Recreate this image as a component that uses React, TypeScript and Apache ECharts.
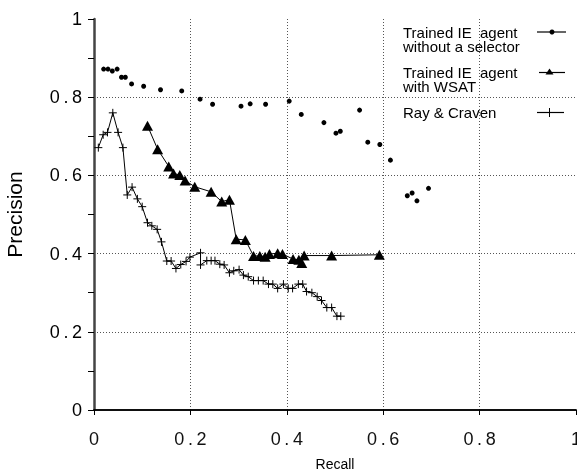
import React, { useEffect, useRef } from "react";
import * as echarts from "echarts";

const selectorRecall = [0.020, 0.029, 0.038, 0.048, 0.057, 0.065, 0.078, 0.103, 0.138, 0.182, 0.220, 0.246, 0.305, 0.324, 0.356, 0.405, 0.430, 0.477, 0.502, 0.511, 0.551, 0.568, 0.593, 0.615, 0.650, 0.660, 0.670, 0.694];
const selectorPrecision = [0.872, 0.872, 0.867, 0.872, 0.851, 0.851, 0.834, 0.828, 0.819, 0.816, 0.795, 0.782, 0.777, 0.783, 0.782, 0.790, 0.756, 0.735, 0.708, 0.713, 0.767, 0.685, 0.679, 0.639, 0.548, 0.555, 0.535, 0.567];

const wsatRecall = [0.111, 0.132, 0.155, 0.165, 0.178, 0.189, 0.209, 0.243, 0.265, 0.281, 0.295, 0.314, 0.331, 0.344, 0.355, 0.364, 0.381, 0.391, 0.413, 0.425, 0.431, 0.436, 0.493, 0.592];
const wsatPrecision = [0.727, 0.667, 0.623, 0.605, 0.601, 0.587, 0.571, 0.558, 0.533, 0.538, 0.437, 0.435, 0.394, 0.394, 0.392, 0.399, 0.401, 0.399, 0.386, 0.384, 0.376, 0.395, 0.395, 0.397];

const rayRecall = [0.009, 0.019, 0.028, 0.039, 0.050, 0.060, 0.069, 0.079, 0.090, 0.100, 0.111, 0.120, 0.131, 0.140, 0.151, 0.160, 0.170, 0.180, 0.191, 0.199, 0.221, 0.221, 0.234, 0.243, 0.251, 0.261, 0.270, 0.281, 0.290, 0.301, 0.310, 0.320, 0.331, 0.341, 0.351, 0.362, 0.371, 0.381, 0.393, 0.403, 0.412, 0.424, 0.433, 0.441, 0.452, 0.463, 0.472, 0.483, 0.493, 0.504, 0.512];
const rayPrecision = [0.671, 0.704, 0.710, 0.760, 0.710, 0.671, 0.550, 0.570, 0.540, 0.520, 0.479, 0.471, 0.462, 0.430, 0.381, 0.381, 0.362, 0.372, 0.380, 0.391, 0.402, 0.371, 0.382, 0.382, 0.382, 0.373, 0.371, 0.351, 0.356, 0.359, 0.345, 0.341, 0.331, 0.331, 0.331, 0.322, 0.322, 0.311, 0.322, 0.311, 0.311, 0.322, 0.322, 0.303, 0.300, 0.290, 0.280, 0.262, 0.262, 0.240, 0.240];

const seriesNames = ["Trained IE  agent\nwithout a selector", "Trained IE  agent\nwith WSAT", "Ray & Craven"];
const xAxisTitle = "Recall";
const yAxisTitle = "Precision";

const FONT = "'Liberation Sans', Arial, Helvetica, sans-serif";

function zip(xs: number[], ys: number[]) {
  return xs.map((x, i) => [x, ys[i]]);
}

function spaced(v: number) {
  if (Math.abs(v) < 1e-9) return "0";
  if (Math.abs(v - 1) < 1e-9) return "1";
  return v.toFixed(1).split("").join("\u2009");
}

export default function App() {
  const ref = useRef<HTMLDivElement>(null);
  useEffect(() => {
    if (!ref.current) return;
    const chart = echarts.init(ref.current, null, { renderer: "svg" });
    const dotted = { color: "#555", width: 1, type: [1, 2] as any };
    const lx = 403;
    const legendTexts = [
      { text: seriesNames[0], y: 25 },
      { text: seriesNames[1], y: 65 },
      { text: seriesNames[2], y: 105 },
    ].map((r) => ({
      type: "text",
      x: lx,
      y: r.y,
      style: { text: r.text, font: `15px ${FONT}`, lineHeight: 14, fill: "#000", verticalAlign: "top", align: "left" },
    }));
    chart.setOption({
      animation: false,
      grid: { left: 94, right: 1, top: 19, bottom: 62, outerBoundsMode: "none" } as any,
      textStyle: { fontFamily: FONT },
      xAxis: [
        {
          type: "value",
          min: 0,
          max: 1,
          interval: 0.2,
          name: xAxisTitle,
          nameLocation: "middle",
          nameGap: 47,
          nameTextStyle: { fontSize: 14, color: "#000", fontFamily: FONT },
          axisLine: { show: true, onZero: false, lineStyle: { color: "#000", width: 1.5 } },
          axisTick: { show: true, length: 5, inside: false, lineStyle: { color: "#000", width: 1 } },
          axisLabel: { fontSize: 18, color: "#111", margin: 20, formatter: (v: number) => spaced(v) },
          splitLine: { show: true, showMinLine: false, showMaxLine: false, lineStyle: dotted } as any,
        },
        {
          type: "value",
          position: "top",
          min: 0,
          max: 1,
          axisLine: { show: true, lineStyle: { color: "#000", width: 1.5 } },
          axisTick: { show: false },
          axisLabel: { show: false },
          splitLine: { show: false },
        },
      ],
      yAxis: {
        type: "value",
        min: 0,
        max: 1,
        interval: 0.2,
        name: yAxisTitle,
        nameLocation: "middle",
        nameGap: 69,
        nameRotate: 90,
        nameTextStyle: { fontSize: 21, color: "#000", fontFamily: FONT },
        axisLine: { show: true, onZero: false, lineStyle: { color: "#444", width: 2.5 } },
        axisTick: { show: true, length: 6, lineStyle: { color: "#000", width: 1 } },
        minorTick: { show: true, splitNumber: 2, length: 6, lineStyle: { color: "#000", width: 1 } },
        axisLabel: { fontSize: 18, color: "#000", margin: 12, formatter: (v: number) => spaced(v) },
        splitLine: { show: true, showMinLine: false, showMaxLine: false, lineStyle: dotted } as any,
      },
      series: [
        {
          name: seriesNames[0],
          type: "scatter",
          data: zip(selectorRecall, selectorPrecision),
          symbol: "circle",
          symbolSize: 5,
          itemStyle: { color: "#000", opacity: 1 },
        },
        {
          name: seriesNames[1],
          type: "line",
          data: zip(wsatRecall, wsatPrecision),
          symbol: "triangle",
          symbolSize: [11, 10],
          showAllSymbol: true,
          itemStyle: { color: "#000" },
          lineStyle: { color: "#000", width: 1 },
        },
        {
          name: seriesNames[2],
          type: "line",
          data: zip(rayRecall, rayPrecision),
          symbol: "path://M5,0L5,10M0,5L10,5",
          symbolSize: 8,
          showAllSymbol: true,
          itemStyle: { color: "none", borderColor: "#000", borderWidth: 1 },
          lineStyle: { color: "#000", width: 1 },
        },
      ],
      graphic: [
        ...legendTexts,
        { type: "line", shape: { x1: 537, y1: 32, x2: 566, y2: 32 }, style: { stroke: "#666", lineWidth: 2 } },
        { type: "circle", shape: { cx: 552, cy: 32, r: 2.5 }, style: { fill: "#000" } },
        { type: "line", shape: { x1: 539, y1: 72.5, x2: 565, y2: 72.5 }, style: { stroke: "#000", lineWidth: 1.2 } },
        { type: "polygon", shape: { points: [[549.5, 68.5], [545.5, 74.5], [553.5, 74.5]] }, style: { fill: "#000" } },
        { type: "line", shape: { x1: 537, y1: 112.5, x2: 564, y2: 112.5 }, style: { stroke: "#000", lineWidth: 1.2 } },
        { type: "line", shape: { x1: 549.5, y1: 108, x2: 549.5, y2: 117 }, style: { stroke: "#000", lineWidth: 1 } },
      ],
    });
    return () => chart.dispose();
  }, []);
  return <div ref={ref} style={{ position: "fixed", left: 0, top: 0, width: 577, height: 472 }} />;
}
